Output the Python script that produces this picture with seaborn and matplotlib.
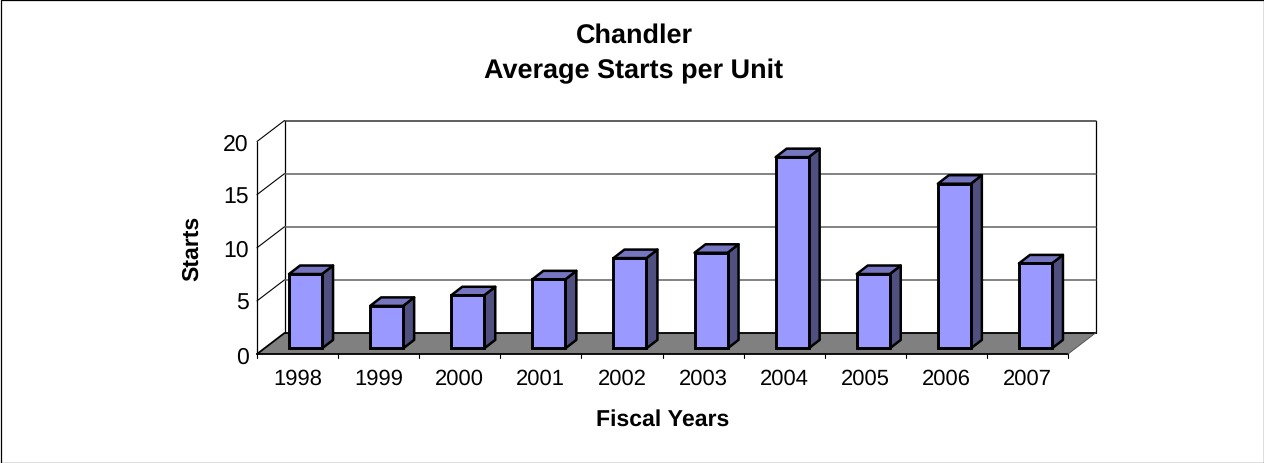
import matplotlib
matplotlib.use("Agg")
import matplotlib.pyplot as plt
from matplotlib.patches import Polygon, Rectangle
import seaborn as sns

years = ["1998", "1999", "2000", "2001", "2002", "2003", "2004", "2005", "2006", "2007"]
starts = [7, 4, 5, 6.5, 8.5, 9, 18, 7, 15.5, 8]
y_ticks = [0, 5, 10, 15, 20]

W, H = 1264, 464
sns.set_theme(style="white")
plt.rcParams["font.family"] = ["Liberation Sans", "DejaVu Sans"]
plt.rcParams["text.hinting"] = "no_hinting"
plt.rcParams["text.hinting_factor"] = 1

fig = plt.figure(figsize=(W / 100, H / 100), dpi=100, facecolor="white")
fig.patches.append(plt.Rectangle((0.5 / W, 0.5 / H), (W - 1) / W, (H - 1) / H, transform=fig.transFigure,
                                 fill=False, ec="black", lw=0.9))
L, R, T, B = 257, 1068, 142.5, 355
ax = fig.add_axes([L / W, 1 - B / H, (R - L) / W, (B - T) / H])
ax.patch.set_alpha(0)
for s in ax.spines.values():
    s.set_visible(False)

px_x = 81.1          # pixels per category
px_y = (B - T) / 20  # pixels per unit
DX = 27.5 / px_x     # wall depth
DY = 21 / px_y
bx = 11 / px_x       # bar depth
by = 8.5 / px_y
lift = 5.6 / px_y    # bars stand in the middle of the floor
shift = 8 / px_x
n = len(years)
x0, x1 = -0.5, n - 0.5

sns.barplot(x=years, y=starts, ax=ax, color="#9999FF", saturation=1, width=33 / px_x,
            bottom=lift, edgecolor="black", linewidth=2.1, zorder=5, errorbar=None)
bars = [p for p in ax.patches if isinstance(p, Rectangle)]
ax.set_xlim(x0, x1)
ax.set_ylim(0, 20)

# floor and walls
ax.add_patch(Polygon([(x0, 0), (x1, 0), (x1 + DX, DY), (x0 + DX, DY)], closed=True, fc="#808080", ec="none",
                     zorder=1, clip_on=False))
ax.plot([x0, x1], [0, 0], color="black", lw=1.3, zorder=2, clip_on=False)
ax.plot([x0, x0 + DX, x1 + DX], [0, DY, DY], color="black", lw=1.3, zorder=2, clip_on=False)
ax.plot([x1, x1 + DX], [0, DY], color="#555555", lw=0.7, zorder=2, clip_on=False)
ax.plot([x0, x0], [0, 20], color="black", lw=0.9, zorder=2, clip_on=False)
ax.plot([x0 + DX, x0 + DX], [DY, 20 + DY], color="black", lw=0.9, zorder=2, clip_on=False)
ax.plot([x1 + DX, x1 + DX], [DY, 20 + DY], color="black", lw=0.9, zorder=2, clip_on=False)
for t in y_ticks[1:]:
    ax.plot([x0, x0 + DX], [t, t + DY], color="black", lw=0.8, zorder=2, clip_on=False)
    ax.plot([x0 + DX, x1 + DX], [t + DY, t + DY], color="#333333" if t == 20 else "#606060",
            lw=1.1, zorder=2, clip_on=False)

# 3D sides and tops of the bars
for p in bars:
    p.set_x(p.get_x() + shift)
    p.set_clip_on(False)
    l, r = p.get_x(), p.get_x() + p.get_width()
    b, t = p.get_y(), p.get_y() + p.get_height()
    ax.add_patch(Polygon([(r, b), (r + bx, b + by), (r + bx, t + by), (r, t)], closed=True,
                         fc="#4F4F80", ec="black", lw=1.8, zorder=4, joinstyle="round", clip_on=False))
    ax.add_patch(Polygon([(l, t), (r, t), (r + bx, t + by), (l + bx, t + by)], closed=True,
                         fc="#7575C0", ec="black", lw=1.8, zorder=4, joinstyle="round", clip_on=False))

ax.set_yticks(y_ticks)
ax.set_xticks(range(n))
ax.set_xticklabels(years)
ax.tick_params(axis="y", length=0, pad=6, labelsize=16.6, labelcolor="black")
ax.tick_params(axis="x", length=0, pad=10, labelsize=15.6, labelcolor="black")
for i in range(n + 1):
    ax.plot([x0 + i, x0 + i], [0, -4 / px_y], color="black", lw=0.8, clip_on=False, zorder=2)
ax.set_xlabel("")
ax.set_ylabel("")

def px(x, y, s, **k):
    fig.text(x / W, 1 - y / H, s, ha="center", va="center", color="black", fontweight="bold", **k)

px(634, 35.5, "Chandler", fontsize=19.1)
px(634, 71, "Average Starts per Unit", fontsize=19.1)
px(663, 420, "Fiscal Years", fontsize=16.3)
px(192, 248.5, "Starts", fontsize=16.4, rotation=90)

fig.savefig("out.png", dpi=100, facecolor="white")
